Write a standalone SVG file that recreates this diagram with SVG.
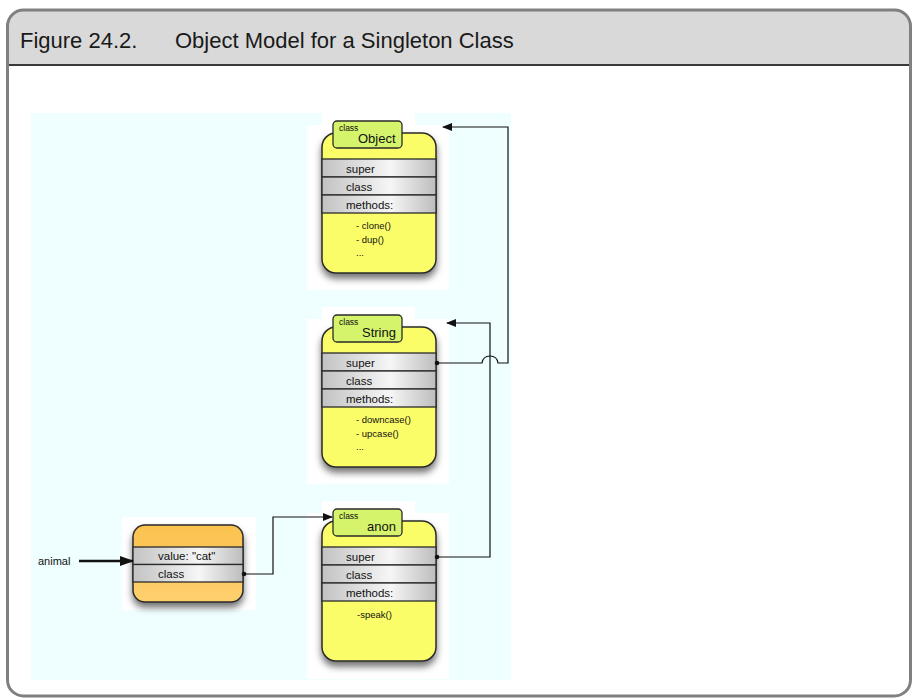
<svg xmlns="http://www.w3.org/2000/svg" width="913" height="698" viewBox="0 0 913 698">
<defs>
<style>
text{font-family:"Liberation Sans",Arial,sans-serif;fill:#111}
.body{fill:#fbfd68;stroke:#2a2a2a;stroke-width:1.5}
.inst{fill:url(#og);stroke:#2a2a2a;stroke-width:1.5}
.tab{fill:#d5f46c;stroke:#2a2a2a;stroke-width:1.3}
.row{fill:url(#rg);stroke:#2a2a2a;stroke-width:1.3}
.rt{font-size:11.5px}
.mt{font-size:9.5px}
.ct{font-size:8.5px}
.nt{font-size:13px}
.conn{fill:none;stroke:#111;stroke-width:1.2}
.patch{fill:#ffffff}
.title{font-size:22px;fill:#1a1a1a}
</style>
<linearGradient id="rg" x1="0" y1="0" x2="1" y2="0">
<stop offset="0" stop-color="#c2c2c2"/>
<stop offset="0.6" stop-color="#f6f6f6"/>
<stop offset="1" stop-color="#bdbdbd"/>
</linearGradient>
<linearGradient id="og" x1="0" y1="0" x2="0" y2="1">
<stop offset="0" stop-color="#fbc24f"/>
<stop offset="1" stop-color="#fed06e"/>
</linearGradient>
<filter id="sh" x="-20%" y="-20%" width="140%" height="140%">
<feDropShadow dx="0" dy="5" stdDeviation="3.5" flood-color="#000" flood-opacity="0.55"/>
</filter>
<marker id="ah" markerWidth="10" markerHeight="8" refX="9" refY="4" orient="auto" markerUnits="userSpaceOnUse">
<path d="M0,0 L10,4 L0,8 Z" fill="#111"/>
</marker>
<marker id="ahb" markerWidth="14" markerHeight="10" refX="13" refY="5" orient="auto" markerUnits="userSpaceOnUse">
<path d="M0,0 L14,5 L0,10 Z" fill="#111"/>
</marker>
</defs>

<!-- frame -->
<g id="frame">
<rect x="7.5" y="10" width="903" height="686" rx="16" fill="#ffffff"/>
<path d="M7.5,65 V26 A16,16 0 0 1 23.5,10 H894.5 A16,16 0 0 1 910.5,26 V65 Z" fill="#d9d9d9"/>
<line x1="7.5" y1="65" x2="910.5" y2="65" stroke="#3a3a3a" stroke-width="2"/>
<rect x="7.5" y="10" width="903" height="686" rx="16" fill="none" stroke="#808080" stroke-width="3"/>
<text class="title" x="20" y="48">Figure 24.2.</text>
<text class="title" x="175" y="48">Object Model for a Singleton Class</text>
</g>

<!-- background -->
<g id="background">
<rect x="31" y="113" width="480" height="567" fill="#efffff"/>
<rect class="patch" x="322" y="113" width="93" height="12"/>
<rect class="patch" x="307" y="125" width="142" height="165"/>
<rect class="patch" x="322" y="307" width="93" height="12"/>
<rect class="patch" x="307" y="319" width="142" height="165"/>
<rect class="patch" x="322" y="501" width="93" height="12"/>
<rect class="patch" x="307" y="513" width="142" height="166"/>
<rect class="patch" x="122" y="517" width="134" height="93"/>
</g>

<!-- Object class -->
<g id="node-object">
<rect class="body" x="322" y="133" width="114" height="140" rx="14" filter="url(#sh)"/>
<rect class="tab" x="333" y="121" width="69" height="27" rx="4"/>
<text class="ct" x="339" y="131">class</text>
<text class="nt" x="358" y="143">Object</text>
<rect class="row" x="322" y="159" width="114" height="18"/>
<rect class="row" x="322" y="177" width="114" height="18"/>
<rect class="row" x="322" y="195" width="114" height="18"/>
<text class="rt" x="346" y="173">super</text>
<text class="rt" x="346" y="191">class</text>
<text class="rt" x="346" y="209">methods:</text>
<text class="mt" x="356" y="229">- clone()</text>
<text class="mt" x="356" y="243">- dup()</text>
<text class="mt" x="356" y="256">...</text>
</g>

<!-- String class -->
<g id="node-string">
<rect class="body" x="322" y="327" width="114" height="140" rx="14" filter="url(#sh)"/>
<rect class="tab" x="333" y="315" width="69" height="27" rx="4"/>
<text class="ct" x="339" y="325">class</text>
<text class="nt" x="362" y="337">String</text>
<rect class="row" x="322" y="353" width="114" height="18"/>
<rect class="row" x="322" y="371" width="114" height="18"/>
<rect class="row" x="322" y="389" width="114" height="18"/>
<text class="rt" x="346" y="367">super</text>
<text class="rt" x="346" y="385">class</text>
<text class="rt" x="346" y="403">methods:</text>
<text class="mt" x="356" y="423">- downcase()</text>
<text class="mt" x="356" y="437">- upcase()</text>
<text class="mt" x="356" y="450">...</text>
</g>

<!-- anon singleton class -->
<g id="node-anon">
<rect class="body" x="322" y="521" width="114" height="140" rx="14" filter="url(#sh)"/>
<rect class="tab" x="333" y="509" width="69" height="27" rx="4"/>
<text class="ct" x="339" y="519">class</text>
<text class="nt" x="367" y="531">anon</text>
<rect class="row" x="322" y="547" width="114" height="18"/>
<rect class="row" x="322" y="565" width="114" height="18"/>
<rect class="row" x="322" y="583" width="114" height="18"/>
<text class="rt" x="346" y="561">super</text>
<text class="rt" x="346" y="579">class</text>
<text class="rt" x="346" y="597">methods:</text>
<text class="mt" x="357" y="618">-speak()</text>
</g>

<!-- instance -->
<g id="node-instance">
<rect class="inst" x="133" y="525" width="110" height="77" rx="12" filter="url(#sh)"/>
<rect class="row" x="133" y="547" width="110" height="17.5"/>
<rect class="row" x="133" y="564.5" width="110" height="17.5"/>
<text class="rt" x="158" y="560">value: "cat"</text>
<text class="rt" x="158" y="578">class</text>
</g>

<g id="label-animal">
<text x="38" y="565" style="font-size:11px">animal</text>
</g>

<!-- connectors -->
<g id="connectors">
<line x1="79" y1="561" x2="133" y2="561" stroke="#111" stroke-width="2.5" marker-end="url(#ahb)"/>
<circle cx="244" cy="574" r="2.3" fill="#111"/>
<path class="conn" d="M244,574 H273 V517 H332" marker-end="url(#ah)"/>
<circle cx="437" cy="557" r="2.3" fill="#111"/>
<path class="conn" d="M437,557 H490 V323 H447" marker-end="url(#ah)"/>
<circle cx="437" cy="363" r="2.3" fill="#111"/>
<path class="conn" d="M437,363 H482 Q483,356 490,356 Q497,356 498,363 H508 V127 H443" marker-end="url(#ah)"/>
</g>
</svg>
